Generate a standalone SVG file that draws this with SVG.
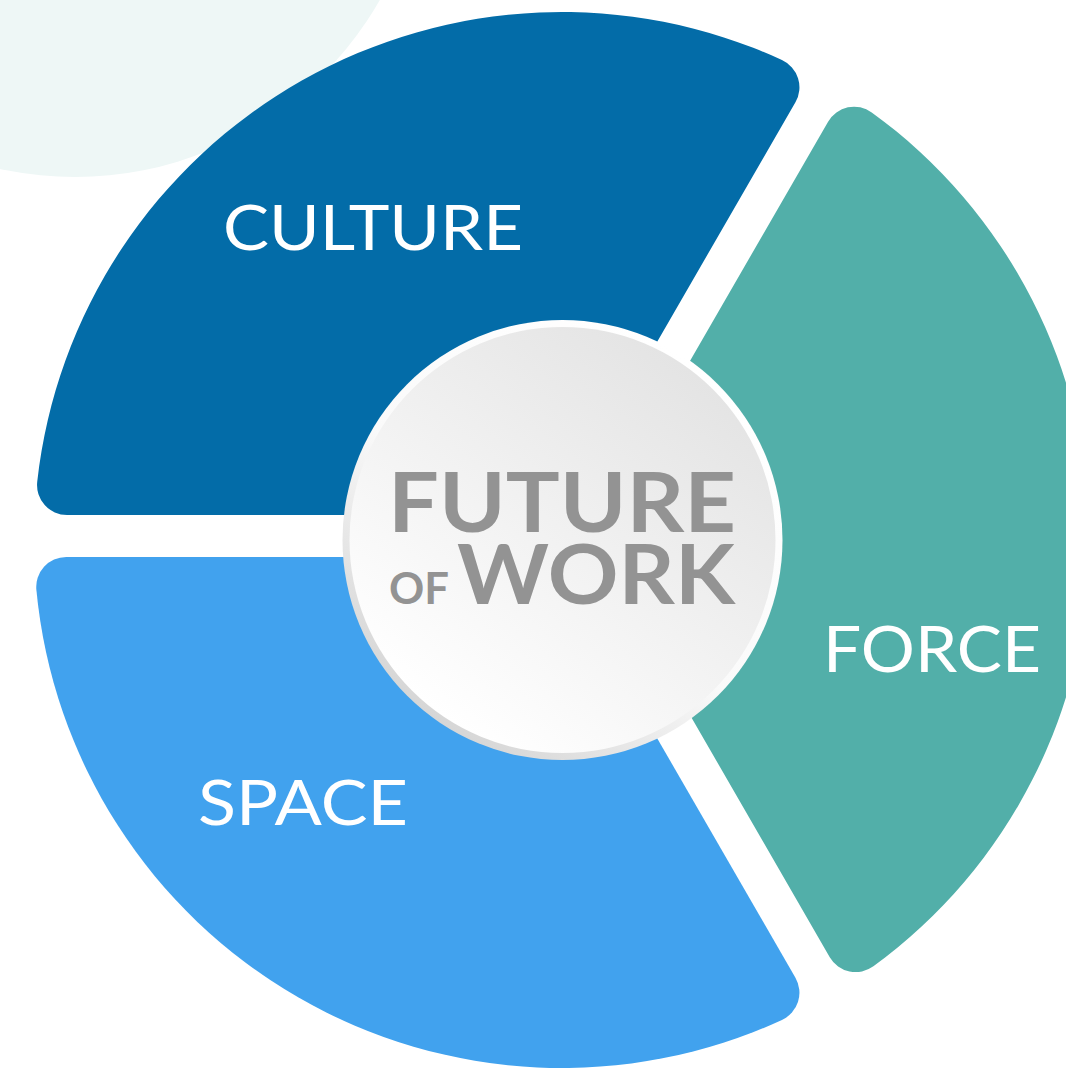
<svg xmlns="http://www.w3.org/2000/svg" width="1066" height="1070" viewBox="0 0 1066 1070">
  <style>
    .label { font-family: Lato, "Liberation Sans", sans-serif; font-weight: 400; fill: #ffffff; }
    .title { font-family: Lato, "Liberation Sans", sans-serif; font-weight: 700; fill: #939393; }
  </style>
  <defs>
    <linearGradient id="ringGrad" x1="0.8" y1="0.1" x2="0.2" y2="0.9">
      <stop offset="0" stop-color="#ffffff"/>
      <stop offset="0.55" stop-color="#fafafa"/>
      <stop offset="1" stop-color="#d6d6d6"/>
    </linearGradient>
    <linearGradient id="faceGrad" x1="0.8" y1="0.1" x2="0.2" y2="0.9">
      <stop offset="0" stop-color="#e4e4e4"/>
      <stop offset="1" stop-color="#ffffff"/>
    </linearGradient>
  </defs>
  <rect width="1066" height="1070" fill="#ffffff"/>
  <circle cx="75" cy="-174" r="351" fill="#eef7f6"/>

  <g id="culture">
    <path d="M67.05,515 L557.2,515 L795.44,102.25 A30,30 0 0 0 781.95,60 A528,528 0 0 0 37.23,481.69 A30,30 0 0 0 67.05,515 Z" fill="#036ca8"/>
    <text class="label" x="223" y="250" font-size="62" textLength="300" lengthAdjust="spacingAndGlyphs">CULTURE</text>
  </g>

  <g id="space">
    <path d="M66.22,557 L552.5,557 L795.44,977.75 A30,30 0 0 1 781.95,1020 A528,528 0 0 1 36.37,589.83 A30,30 0 0 1 66.22,557 Z" fill="#41a2ee"/>
    <text class="label" x="198" y="825" font-size="61" textLength="210" lengthAdjust="spacingAndGlyphs">SPACE</text>
  </g>

  <g id="force">
    <path d="M587.8,538 L828.1,121.67 A30,30 0 0 1 871.7,112.4 A528,528 0 0 1 873.4,966.35 A30,30 0 0 1 829.75,957.14 Z" fill="#52afa9"/>
    <text class="label" x="823" y="672" font-size="63" textLength="218" lengthAdjust="spacingAndGlyphs">FORCE</text>
  </g>

  <g id="future-of-work">
    <circle cx="562.5" cy="540" r="220" fill="url(#ringGrad)"/>
    <circle cx="562.5" cy="540" r="213" fill="url(#faceGrad)"/>
    <text class="title" x="388" y="532" font-size="83" textLength="348" lengthAdjust="spacingAndGlyphs">FUTURE</text>
    <text class="title" x="389" y="604" font-size="43" textLength="60" lengthAdjust="spacingAndGlyphs">OF</text>
    <text class="title" x="457" y="604" font-size="82" textLength="278" lengthAdjust="spacingAndGlyphs">WORK</text>
  </g>
</svg>
